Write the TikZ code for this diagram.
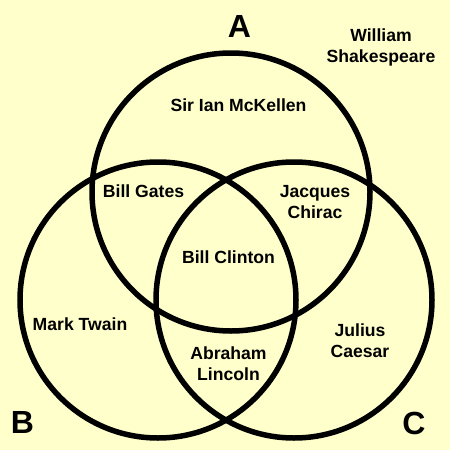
\documentclass[tikz,border=0pt]{standalone}
\usepackage{fontspec}
\setmainfont{Liberation Sans}
\definecolor{bgyellow}{RGB}{255,255,204}
\begin{document}
\begin{tikzpicture}[x=1pt,y=-1pt,
  ring/.style={draw=black,line width=5.5pt},
  person/.style={font=\fontsize{17.6}{21}\selectfont\bfseries,align=center,anchor=base,inner sep=0pt},
  setlabel/.style={font=\fontsize{32}{36}\selectfont\bfseries,anchor=base,inner sep=0pt}]
\fill[bgyellow] (0,0) rectangle (450,450);
\useasboundingbox (0,0) rectangle (450,450);
\draw[ring] (231,192) circle[radius=139];
\draw[ring] (158,300) circle[radius=138];
\draw[ring] (294,300) circle[radius=138];
\node[setlabel] (la) at (239.5,37) {A};
\node[setlabel] (lb) at (22.5,433) {B};
\node[setlabel] (lc) at (414,434) {C};
\node[person] (ws) at (381,62) {William\\Shakespeare};
\node[person] (im) at (238.5,111) {Sir Ian McKellen};
\node[person] (bg) at (143.5,197) {Bill Gates};
\node[person] (jc) at (315,218) {Jacques\\Chirac};
\node[person] (bc) at (228.5,263) {Bill Clinton};
\node[person] (mt) at (80,330) {Mark Twain};
\node[person] (jcs) at (360,357) {Julius\\Caesar};
\node[person] (al) at (228.5,380) {Abraham\\Lincoln};
\end{tikzpicture}
\end{document}
